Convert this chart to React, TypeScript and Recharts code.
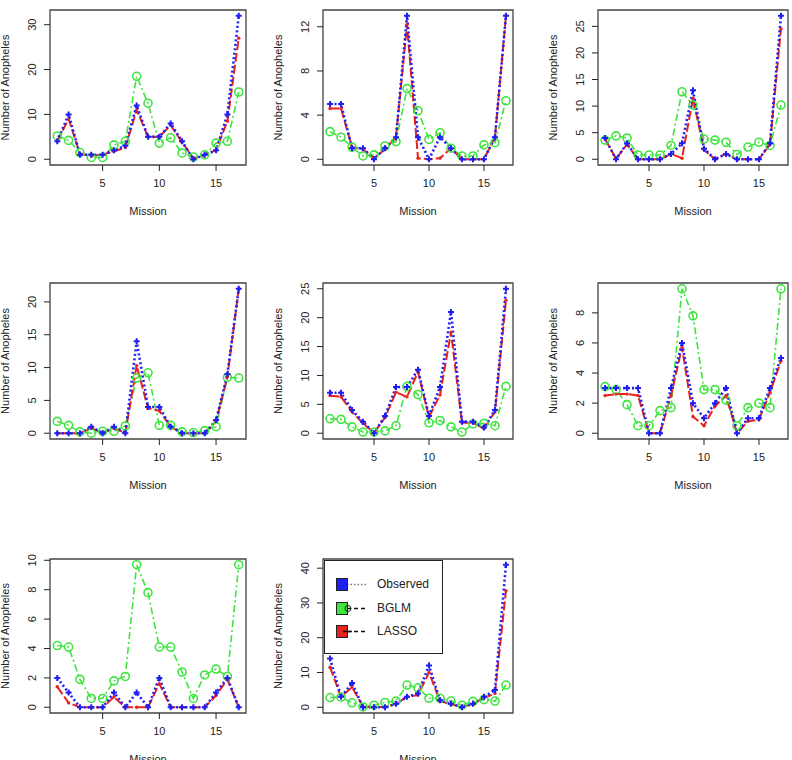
import React from 'react';
import { LineChart, Line, XAxis, YAxis, ReferenceArea, Legend } from 'recharts';

const missions = [1, 2, 3, 4, 5, 6, 7, 8, 9, 10, 11, 12, 13, 14, 15, 16, 17];
const missionTicks = [5, 10, 15];

// panel 1
const obs1 = [4, 10, 1, 1, 1, 2, 3, 12, 5, 5, 8, 4, 0, 1, 2, 10, 32];
const bglm1 = [5.2, 4.2, 1.5, 0.4, 0.4, 3.2, 4, 18.5, 12.5, 3.6, 4.8, 1.4, 0.5, 1, 3.6, 4, 15];
const lasso1 = [4, 9, 1.2, 0.8, 1, 1.8, 2.6, 11, 5, 5, 7.6, 3.8, 0.2, 1, 2, 8.5, 27];
const ticks1 = [0, 5, 10, 15, 20, 25, 30];

// panel 2
const obs2 = [5, 5, 1, 1, 0, 1, 2, 13, 2, 0, 2, 1, 0, 0, 0, 2, 13];
const bglm2 = [2.5, 2, 1.1, 0.3, 0.4, 1.2, 1.6, 6.4, 4.4, 1.8, 2.4, 1, 0.3, 0.3, 1.3, 1.5, 5.3];
const lasso2 = [4.6, 4.6, 1.1, 0.9, 0.1, 0.9, 2, 12.2, 0.1, 0, 0.1, 1, 0, 0, 0, 2, 13];
const ticks2 = [0, 2, 4, 6, 8, 10, 12];

// panel 3
const obs3 = [4, 0, 3, 0, 0, 0, 1, 3, 13, 2, 0, 1, 0, 0, 0, 3, 27];
const bglm3 = [3.6, 4.4, 4, 0.8, 0.8, 0.8, 2.6, 12.7, 10.2, 3.8, 3.6, 3.2, 0.9, 2.3, 3.2, 2.6, 10.2];
const lasso3 = [3.8, 0.1, 2.8, 0, 0, 0, 1, 0.2, 11.5, 1.8, 0, 1, 0, 0, 0, 2.8, 24.5];
const ticks3 = [0, 5, 10, 15, 20, 25];

// panel 4
const obs4 = [0, 0, 0, 1, 0, 1, 0, 14, 4, 4, 1, 0, 0, 0, 2, 9, 22];
const bglm4 = [1.8, 1.2, 0.2, 0, 0.3, 0.3, 1.1, 8.4, 9.2, 1.2, 1.2, 0.2, 0.1, 0.4, 1, 8.5, 8.4];
const lasso4 = [0, 0, 0, 0.8, 0, 0.8, 0, 10.3, 3.8, 3.4, 1, 0, 0, 0, 1.8, 8.6, 22];
const ticks4 = [0, 5, 10, 15, 20];

// panel 5
const obs5 = [7, 7, 4, 2, 0, 3, 8, 8, 11, 3, 8, 21, 2, 2, 1, 4, 25];
const bglm5 = [2.5, 2.4, 1.1, 0.2, 0.2, 0.4, 1.3, 8.1, 6.7, 1.8, 2.2, 1.1, 0.2, 1.6, 1.7, 1.3, 8.1];
const lasso5 = [6.5, 6.3, 3.7, 1.7, 0.1, 2.7, 7.1, 6.3, 10.6, 2.8, 6.6, 17.5, 1.8, 1.8, 0.8, 3.7, 23];
const ticks5 = [0, 5, 10, 15, 20, 25];

// panel 6
const obs6 = [3, 3, 3, 3, 0, 0, 3, 6, 2, 1, 2, 3, 0, 1, 1, 3, 5];
const bglm6 = [3.1, 2.9, 1.9, 0.5, 0.5, 1.5, 1.7, 9.6, 7.8, 2.9, 2.9, 2.2, 0.5, 1.7, 2, 1.7, 9.6];
const lasso6 = [2.5, 2.6, 2.6, 2.5, 0, 0, 2.5, 5.7, 1.1, 0.5, 1.8, 2.5, 0, 0.8, 0.9, 2.7, 4.8];
const ticks6 = [0, 2, 4, 6, 8];

// panel 7
const obs7 = [2, 1, 0, 0, 0, 1, 0, 1, 0, 2, 0, 0, 0, 0, 1, 2, 0];
const bglm7 = [4.2, 4.1, 1.9, 0.6, 0.6, 1.8, 2.1, 9.7, 7.8, 4.1, 4.1, 2.4, 0.6, 2.2, 2.6, 2.1, 9.7];
const lasso7 = [1.4, 0.3, 0, 0, 0, 0.7, 0, 0, 0, 1.6, 0, 0, 0, 0, 0.8, 1.9, 0];
const ticks7 = [0, 2, 4, 6, 8, 10];

// panel 8
const obs8 = [14, 3, 7, 0, 0, 0, 1, 3, 4, 12, 2, 1, 0, 1, 3, 5, 41];
const bglm8 = [2.8, 2.9, 1.3, 0.1, 0.6, 1.4, 1.8, 6.4, 5.6, 2.6, 2.6, 1.8, 0.6, 1.7, 2.2, 1.8, 6.4];
const lasso8 = [11.5, 3, 5.8, 0.2, 0.1, 0.1, 1, 3, 3.5, 10, 1.8, 0.9, 0.1, 0.9, 2.7, 4, 33.5];
const ticks8 = [0, 10, 20, 30, 40];

const seriesNames = ['Observed', 'BGLM', 'LASSO'];

const BLUE = '#1f1ff5';
const GREEN = '#3fe43f';
const RED = '#e8221c';
const INK = '#222';
const FONT = '"Liberation Sans", Arial, Helvetica, sans-serif';

// plot box positions (page pixels)
const cols = [{ x: 50, w: 196 }, { x: 323, w: 190 }, { x: 598, w: 190 }];
const rows = [{ y: 10, h: 155 }, { y: 283, h: 156 }, { y: 559, h: 154 }];

const panels = [
  { obs: obs1, bglm: bglm1, lasso: lasso1, ticks: ticks1, c: 0, r: 0 },
  { obs: obs2, bglm: bglm2, lasso: lasso2, ticks: ticks2, c: 1, r: 0 },
  { obs: obs3, bglm: bglm3, lasso: lasso3, ticks: ticks3, c: 2, r: 0 },
  { obs: obs4, bglm: bglm4, lasso: lasso4, ticks: ticks4, c: 0, r: 1 },
  { obs: obs5, bglm: bglm5, lasso: lasso5, ticks: ticks5, c: 1, r: 1 },
  { obs: obs6, bglm: bglm6, lasso: lasso6, ticks: ticks6, c: 2, r: 1 },
  { obs: obs7, bglm: bglm7, lasso: lasso7, ticks: ticks7, c: 0, r: 2 },
  { obs: obs8, bglm: bglm8, lasso: lasso8, ticks: ticks8, c: 1, r: 2, legend: true },
];

// R style axis range: data range stretched by 4% each side
const pad = (lo: number, hi: number): [number, number] => {
  const d = (hi - lo) * 0.04;
  return [lo - d, hi + d];
};

const PlusDot = (props: any) => {
  const { cx, cy, index } = props;
  if (cx == null || cy == null) return <g key={index} />;
  return (
    <path key={index} d={`M${cx - 3},${cy}h6M${cx},${cy - 3}v6`} stroke={BLUE} strokeWidth={2} fill="none" />
  );
};

const RingDot = (props: any) => {
  const { cx, cy, index } = props;
  if (cx == null || cy == null) return <g key={index} />;
  return <circle key={index} cx={cx} cy={cy} r={4} fill="none" stroke={GREEN} strokeWidth={1.6} />;
};

const SmallDot = (props: any) => {
  const { cx, cy, index } = props;
  if (cx == null || cy == null) return <g key={index} />;
  return <circle key={index} cx={cx} cy={cy} r={1.7} fill={RED} />;
};

const YTick = (props: any) => {
  const { x, y, payload } = props;
  return (
    <text
      x={x}
      y={y}
      transform={`rotate(-90 ${x} ${y})`}
      textAnchor="middle"
      fontSize={11}
      fill={INK}
      fontFamily={FONT}
    >
      {payload.value}
    </text>
  );
};

const legendStyle = [
  { color: BLUE, dash: '1.5 2', stroke: '#777', mark: 'none' },
  { color: GREEN, dash: '4 3', stroke: '#111', mark: 'ring' },
  { color: RED, dash: '4 3', stroke: '#111', mark: 'bar' },
];

const renderLegend = () => (
  <div
    style={{
      width: 119,
      height: 94,
      border: '1px solid #222',
      background: '#fff',
      boxSizing: 'border-box',
      position: 'relative',
      fontFamily: FONT,
    }}
  >
    {seriesNames.map((name, i) => {
      const st = legendStyle[i];
      const top = [17, 41, 64][i];
      return (
        <div key={name} style={{ position: 'absolute', left: 0, top, height: 13, width: '100%' }}>
          <svg width={44} height={13} style={{ position: 'absolute', left: 10, top: 0 }}>
            <line x1={12} y1={6.5} x2={32} y2={6.5} stroke={st.stroke} strokeWidth={1.5} strokeDasharray={st.dash} />
            <rect x={1.5} y={0.5} width={11} height={12} fill={st.color} stroke="#222" strokeWidth={1} />
            {st.mark === 'ring' && <circle cx={13} cy={6.5} r={3} fill="none" stroke="#222" strokeWidth={1} />}
            {st.mark === 'bar' && <line x1={8} y1={6.5} x2={17} y2={6.5} stroke="#111" strokeWidth={1.5} />}
          </svg>
          <span style={{ position: 'absolute', left: 52, top: -1, fontSize: 12, color: INK, lineHeight: '14px' }}>
            {name}
          </span>
        </div>
      );
    })}
  </div>
);

function Panel({ p }: { p: any }) {
  const col = cols[p.c];
  const row = rows[p.r];
  const data = missions.map((m, i) => ({ mission: m, observed: p.obs[i], bglm: p.bglm[i], lasso: p.lasso[i] }));
  const all = [...p.obs, ...p.bglm, ...p.lasso];
  const yDom = pad(Math.min(...all), Math.max(...all));
  const xDom = pad(missions[0], missions[missions.length - 1]);
  const width = col.w + 54;
  const height = row.h + 68;

  return (
    <div style={{ position: 'absolute', left: col.x - 50, top: row.y - 10, width, height }}>
      <LineChart width={width} height={height} data={data} margin={{ top: 10, right: 4, left: 0, bottom: 8 }}>
        <XAxis
          dataKey="mission"
          type="number"
          domain={xDom}
          ticks={missionTicks}
          height={50}
          axisLine={false}
          tickLine={{ stroke: INK }}
          tickSize={6}
          tickMargin={8}
          tick={{ fill: INK, fontSize: 11, fontFamily: FONT }}
          label={{ value: 'Mission', position: 'insideBottom', offset: 0, fill: INK, fontSize: 11, fontFamily: FONT }}
        />
        <YAxis
          type="number"
          domain={yDom}
          ticks={p.ticks}
          width={50}
          axisLine={false}
          tickLine={{ stroke: INK }}
          tickSize={6}
          tickMargin={8}
          tick={<YTick />}
          label={{
            value: 'Number of Anopheles',
            angle: -90,
            position: 'insideLeft',
            offset: 5,
            fill: INK,
            fontSize: 11,
            fontFamily: FONT,
            style: { textAnchor: 'middle' },
          }}
        />
        <ReferenceArea x1={xDom[0]} x2={xDom[1]} y1={yDom[0]} y2={yDom[1]} fill="none" stroke="#444" strokeWidth={1.3} />
        <Line
          type="linear"
          dataKey="bglm"
          name="BGLM"
          stroke={GREEN}
          strokeWidth={1.6}
          strokeDasharray="7 3 2 3"
          dot={RingDot}
          activeDot={false}
          isAnimationActive={false}
        />
        <Line
          type="linear"
          dataKey="lasso"
          name="LASSO"
          stroke={RED}
          strokeWidth={2}
          strokeDasharray="9 3"
          dot={SmallDot}
          activeDot={false}
          isAnimationActive={false}
        />
        <Line
          type="linear"
          dataKey="observed"
          name="Observed"
          stroke={BLUE}
          strokeWidth={2.6}
          strokeDasharray="2 2.5"
          dot={PlusDot}
          activeDot={false}
          isAnimationActive={false}
        />
        {p.legend && (
          <Legend
            layout="horizontal"
            align="center"
            verticalAlign="middle"
            width={119}
            height={94}
            content={renderLegend}
            wrapperStyle={{ left: 51, top: 11, width: 119, height: 94 }}
          />
        )}
      </LineChart>
    </div>
  );
}

export default function App() {
  return (
    <div style={{ position: 'absolute', left: 0, top: 0, width: 792, height: 760, overflow: 'hidden', background: '#fff' }}>
      {panels.map((p, i) => (
        <Panel key={i} p={p} />
      ))}
    </div>
  );
}
